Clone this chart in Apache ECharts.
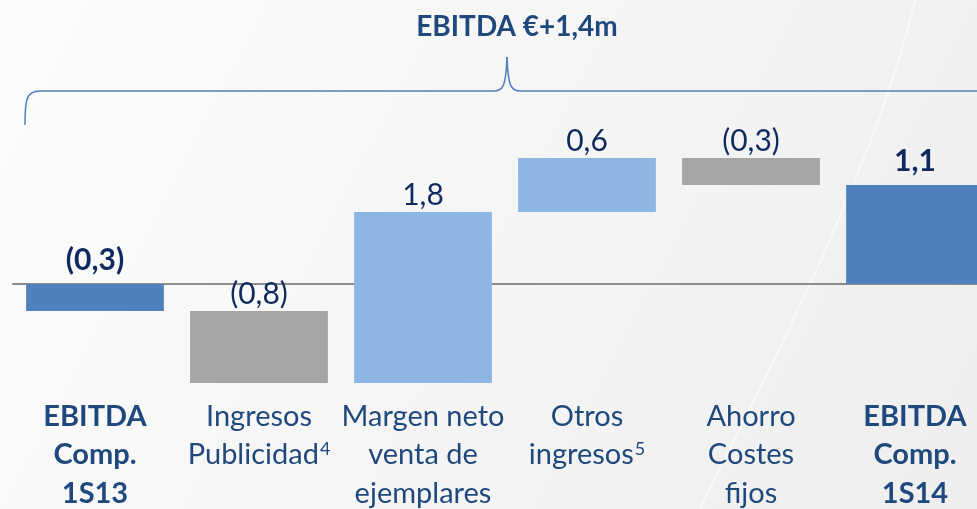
<!DOCTYPE html>
<html>
<head>
<meta charset="utf-8">
<script src="https://cdn.jsdelivr.net/npm/echarts@6/dist/echarts.min.js"></script>
<style>
  html, body { margin: 0; padding: 0; }
  #chart { width: 977px; height: 509px; }
</style>
</head>
<body>
<div id="chart"></div>
<script>
// categorías del puente de EBITDA
const categories = [
    'EBITDA\nComp.\n1S13',
    'Ingresos\nPublicidad{sup|4}',
    'Margen neto\nventa de\nejemplares',
    'Otros\ningresos{sup|5}',
    'Ahorro\nCostes\nfijos',
    'EBITDA\nComp.\n1S14'
];
const values = [-0.3, -0.8, 1.9, 0.6, -0.3, 1.1];
const kinds = ['total', 'delta', 'delta', 'delta', 'delta', 'total'];
const valueLabels = ['(0,3)', '(0,8)', '1,8', '0,6', '(0,3)', '1,1'];

const FONT = 'Lato';
const NAVY = '#1F497D';
const DARK = '#0F2A5E';

// inicio / fin de cada barra
let run = 0;
const rows = values.map((v, i) => {
    let start, end;
    if (kinds[i] === 'total') {
        start = 0; end = v;
    } else {
        start = run; end = run + v;
    }
    run = end;
    return [i, start, end];
});

function barColor(i) {
    if (kinds[i] === 'total') return '#4F81BD';
    return values[i] < 0 ? '#A5A5A5' : '#8DB6E3';
}

function renderItem(params, api) {
    const i = api.value(0);
    const a = api.coord([i, api.value(1)]);
    const b = api.coord([i, api.value(2)]);
    const w = api.size([1, 0])[0] * 0.84;
    const top = Math.min(a[1], b[1]);
    const isTotal = kinds[i] === 'total';
    return {
        type: 'group',
        children: [
            {
                type: 'rect',
                shape: { x: a[0] - w / 2, y: top, width: w, height: Math.abs(a[1] - b[1]) },
                style: { fill: barColor(i) }
            },
            {
                type: 'text',
                style: {
                    text: valueLabels[i],
                    x: a[0],
                    y: top - (isTotal ? 24 : 17),
                    align: 'center',
                    verticalAlign: 'middle',
                    fontFamily: FONT,
                    fontSize: 30,
                    fontWeight: isTotal ? 'bold' : 'normal',
                    fill: DARK
                }
            }
        ]
    };
}

const braceStyle = { fill: 'none', stroke: '#4F81BD', lineWidth: 1.5 };

const chart = echarts.init(document.getElementById('chart'));

const option = {
    backgroundColor: {
        type: 'linear', x: 0, y: 0, x2: 1, y2: 1,
        colorStops: [
            { offset: 0, color: '#fcfcfc' },
            { offset: 1, color: '#eeeeee' }
        ]
    },
    animation: false,
    title: {
        text: 'EBITDA €+1,4m',
        left: 512,
        top: 8,
        textAlign: 'center',
        textStyle: { fontFamily: FONT, fontSize: 28, fontWeight: 'bold', color: NAVY }
    },
    grid: { left: 13, top: 104, width: 984, height: 288, outerBoundsMode: 'none', containLabel: false },
    xAxis: [
        {
            type: 'category',
            data: categories.map((c, i) => kinds[i] === 'total'
                ? { value: c, textStyle: { fontWeight: 'bold' } }
                : c),
            axisLine: { show: false, onZero: false },
            axisTick: { show: false },
            axisLabel: {
                interval: 0,
                margin: 5,
                fontFamily: FONT,
                fontSize: 29,
                lineHeight: 38.5,
                color: NAVY,
                rich: {
                    sup: { fontFamily: FONT, fontSize: 18, color: NAVY, verticalAlign: 'top', lineHeight: 18, padding: [5, 0, 0, 1] }
                }
            }
        },
        {
            // línea de cero
            type: 'category',
            position: 'bottom',
            data: categories,
            axisLine: { show: true, onZero: true, lineStyle: { color: '#8C8C8C', width: 2 } },
            axisTick: { show: false },
            axisLabel: { show: false }
        }
    ],
    yAxis: {
        type: 'value', min: -1.2, max: 2,
        axisLabel: { show: false },
        axisLine: { show: false },
        axisTick: { show: false },
        splitLine: { show: false }
    },
    graphic: [
        // llave sobre el gráfico
        { type: 'bezierCurve', shape: { x1: 25, y1: 125, cpx1: 25, cpy1: 100, cpx2: 26, cpy2: 91, x2: 40, y2: 91 }, style: braceStyle },
        { type: 'line', shape: { x1: 40, y1: 91, x2: 494, y2: 91 }, style: braceStyle },
        { type: 'bezierCurve', shape: { x1: 494, y1: 91, cpx1: 503, cpy1: 91, cpx2: 506, cpy2: 86, x2: 507, y2: 57 }, style: braceStyle },
        { type: 'bezierCurve', shape: { x1: 507, y1: 57, cpx1: 508, cpy1: 86, cpx2: 511, cpy2: 91, x2: 520, y2: 91 }, style: braceStyle },
        { type: 'line', shape: { x1: 520, y1: 91, x2: 980, y2: 91 }, style: braceStyle },
        {
            type: 'bezierCurve',
            silent: true,
            z: -1,
            shape: { x1: 915, y1: 0, cpx1: 880, cpy1: 150, cpx2: 790, cpy2: 330, x2: 700, y2: 509 },
            style: { fill: 'none', stroke: 'rgba(255,255,255,0.55)', lineWidth: 2 }
        }
    ],
    series: [
        {
            type: 'custom',
            renderItem: renderItem,
            data: rows
        }
    ]
};

chart.setOption(option);
</script>
</body>
</html>
